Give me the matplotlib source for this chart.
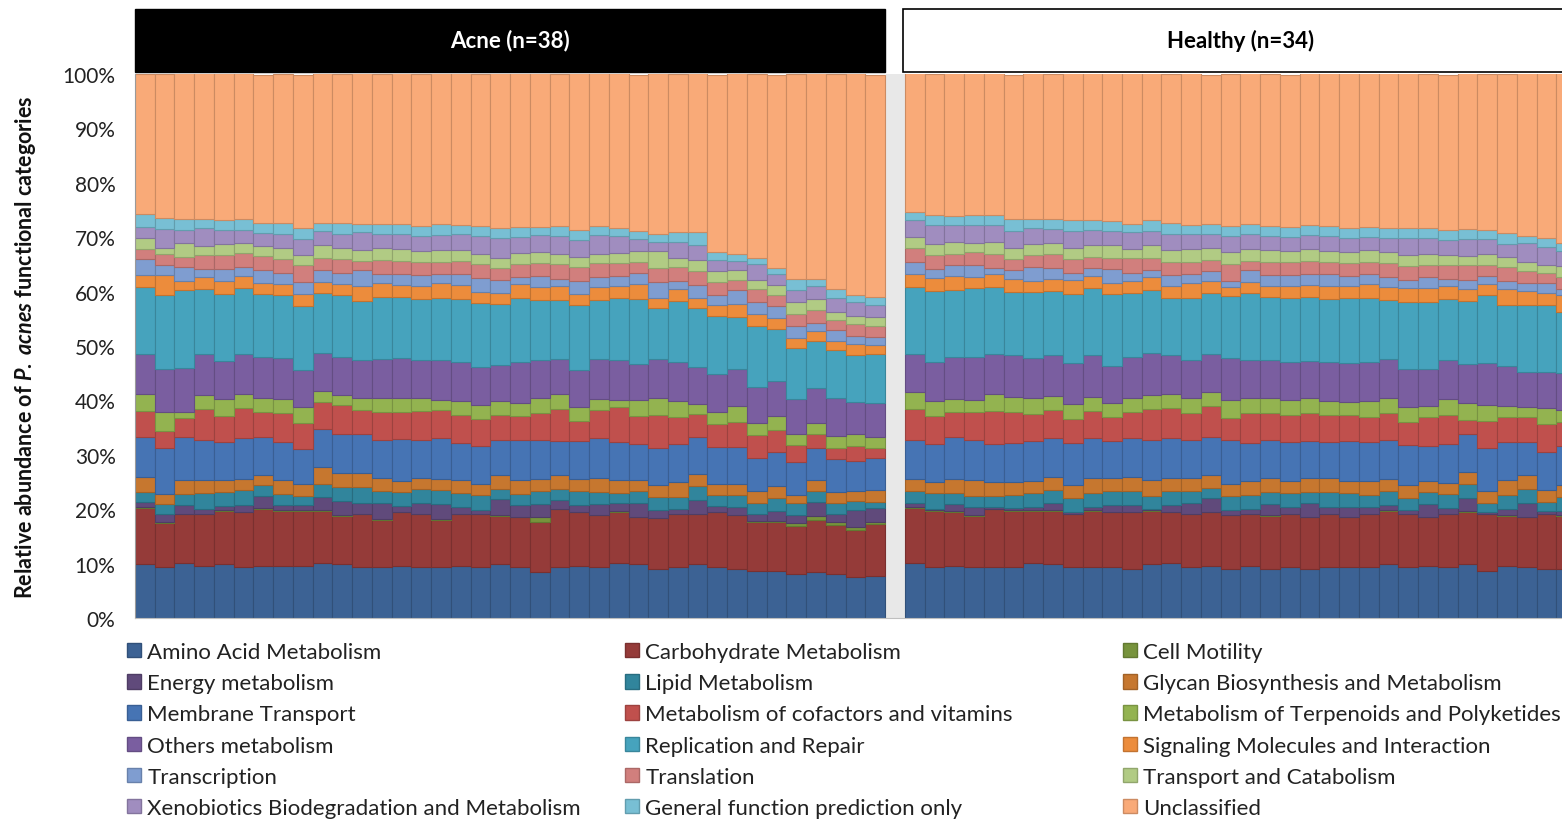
import numpy as np
import matplotlib
matplotlib.use("Agg")
import matplotlib.pyplot as plt
import matplotlib.colors as mcolors
from matplotlib.patches import Rectangle, Patch
from matplotlib.transforms import blended_transform_factory

plt.rcParams['font.family'] = ['Lato', 'DejaVu Sans']
plt.rcParams['mathtext.fontset'] = 'custom'
plt.rcParams['mathtext.it'] = 'Lato:italic:bold'
plt.rcParams['mathtext.rm'] = 'Lato:bold'

categories = ['Amino Acid Metabolism', 'Carbohydrate Metabolism', 'Cell Motility',
              'Energy metabolism', 'Lipid Metabolism', 'Glycan Biosynthesis and Metabolism',
              'Membrane Transport', 'Metabolism of cofactors and vitamins',
              'Metabolism of Terpenoids and Polyketides', 'Others metabolism',
              'Replication and Repair', 'Signaling Molecules and Interaction',
              'Transcription', 'Translation', 'Transport and Catabolism',
              'Xenobiotics Biodegradation and Metabolism', 'General function prediction only',
              'Unclassified']

colors = ['#3c6294', '#953b39', '#77933c', '#604a7b', '#31859c', '#c6772f',
          '#4674b4', '#c0504d', '#93b350', '#7a5ea0', '#46a3bd', '#ec8c3c',
          '#7f9dd0', '#d17f7d', '#b1cb84', '#a08dbf', '#78bfd4', '#f9aa78']

# ---- Acne (n=38), percent per sample ----
amino_a = [9.9, 9.3, 10.2, 9.6, 9.9, 9.3, 9.6, 9.6, 9.6, 10.2, 9.9, 9.3, 9.3, 9.6, 9.3, 9.3, 9.6, 9.3, 9.9,
           9.3, 8.5, 9.3, 9.6, 9.3, 10.2, 9.9, 9.0, 9.3, 9.9, 9.3, 9.0, 8.7, 8.7, 8.1, 8.4, 8.1, 7.5, 7.8]
carbo_a = [10.4, 8.2, 8.9, 9.5, 9.8, 10.1, 10.4, 10.1, 10.1, 9.5, 8.9, 9.8, 8.8, 9.8, 9.8, 8.8, 9.5, 9.8, 8.9,
           9.2, 9.1, 10.7, 9.8, 9.6, 9.3, 8.6, 9.3, 9.8, 9.2, 10.1, 9.9, 8.9, 8.9, 8.9, 9.7, 9.0, 8.6, 9.5]
motility_a = [0.1, 0.1, 0.1, 0.1, 0.1, 0.1, 0.2, 0.1, 0.1, 0.1, 0.1, 0.1, 0.1, 0.1, 0.1, 0.1, 0.1, 0.1, 0.1,
              0.1, 0.9, 0.1, 0.1, 0.1, 0.1, 0.1, 0.1, 0.1, 0.1, 0.1, 0.1, 0.3, 0.3, 0.5, 0.6, 0.5, 0.6, 0.4]
energy_a = [1.0, 1.6, 1.6, 0.9, 0.8, 1.2, 2.3, 0.9, 1.0, 2.5, 2.6, 2.0, 2.9, 1.1, 2.0, 2.7, 1.2, 0.6, 2.9,
            2.1, 2.5, 1.5, 1.2, 2.0, 1.6, 2.6, 1.4, 0.9, 2.5, 1.1, 1.4, 1.2, 1.8, 1.5, 2.6, 1.5, 3.1, 2.6]
lipid_a = [1.8, 1.8, 2.0, 2.8, 2.6, 2.8, 2.0, 2.1, 1.7, 2.3, 2.6, 2.9, 2.3, 2.6, 2.5, 2.6, 2.5, 2.8, 2.0,
           2.1, 2.3, 2.1, 2.6, 2.1, 1.7, 2.1, 2.5, 2.1, 2.5, 2.0, 2.3, 2.0, 2.3, 2.2, 2.0, 2.0, 1.7, 1.0]
glycan_a = [2.7, 1.8, 2.5, 2.5, 2.1, 2.1, 1.7, 2.5, 2.1, 3.1, 2.5, 2.5, 2.3, 2.0, 2.1, 2.1, 2.5, 2.1, 2.5,
            2.5, 2.2, 2.6, 2.3, 2.6, 2.5, 2.0, 2.1, 2.8, 2.3, 2.1, 2.0, 2.3, 2.3, 1.5, 2.0, 2.0, 1.8, 2.2]
membrane_a = [7.3, 8.4, 8.0, 7.4, 7.0, 7.4, 7.0, 7.0, 6.4, 7.1, 7.2, 7.2, 7.0, 7.7, 6.9, 7.5, 6.7, 7.0, 6.4,
              7.5, 7.2, 6.3, 6.9, 7.4, 7.0, 6.7, 6.9, 7.0, 6.7, 6.7, 6.7, 6.1, 6.3, 6.0, 5.9, 6.1, 5.5, 5.9]
cofactor_a = [4.9, 3.1, 3.4, 5.7, 4.9, 5.6, 4.7, 5.4, 4.9, 4.9, 5.4, 4.5, 5.2, 5.0, 5.3, 5.1, 5.3, 4.9, 4.6,
              4.3, 4.9, 5.8, 3.7, 5.1, 6.4, 5.2, 6.0, 4.9, 4.3, 4.3, 4.6, 4.1, 4.0, 3.1, 2.6, 2.0, 2.8, 1.8]
terpenoid_a = [3.1, 3.6, 1.2, 2.5, 3.1, 2.6, 2.5, 2.6, 2.9, 2.0, 1.8, 2.1, 2.6, 2.5, 2.5, 1.8, 2.5, 2.6, 2.6,
               2.5, 2.9, 2.8, 2.5, 2.1, 1.2, 2.8, 3.2, 2.9, 1.8, 2.1, 2.9, 2.2, 2.6, 2.1, 2.0, 2.2, 2.3, 2.0]
others_a = [7.3, 7.8, 8.1, 7.5, 7.0, 7.4, 7.5, 7.5, 6.7, 7.0, 7.0, 7.0, 7.2, 7.4, 6.9, 7.4, 7.2, 6.9, 6.6,
            7.4, 6.9, 6.4, 6.9, 7.4, 7.4, 6.7, 7.1, 7.2, 6.9, 7.0, 6.9, 6.7, 6.4, 6.4, 6.4, 7.0, 5.8, 6.4]
replication_a = [12.3, 13.6, 14.3, 11.9, 12.3, 12.1, 11.6, 11.5, 11.9, 11.0, 11.3, 10.8, 11.3, 11.2, 11.3,
                 11.5, 11.6, 11.8, 11.3, 11.9, 11.0, 10.9, 11.9, 10.7, 11.5, 11.9, 9.3, 11.2, 10.8, 10.7,
                 9.5, 11.2, 9.5, 9.3, 8.8, 8.8, 8.6, 8.9]
signaling_a = [2.3, 3.8, 1.7, 2.3, 2.3, 2.2, 2.1, 2.1, 2.2, 2.0, 2.1, 2.9, 2.5, 2.2, 2.3, 2.6, 2.5, 2.1, 2.0,
               2.5, 2.5, 2.5, 2.0, 2.5, 2.2, 2.8, 2.0, 2.2, 1.8, 2.1, 2.5, 2.1, 2.0, 1.8, 1.7, 1.7, 2.1, 1.7]
transcription_a = [2.9, 1.7, 2.6, 1.4, 2.3, 1.7, 2.3, 2.0, 2.1, 2.3, 2.1, 2.8, 1.8, 2.0, 2.1, 1.7, 2.0, 2.5,
                   2.3, 1.2, 2.0, 1.3, 2.5, 1.7, 1.7, 2.0, 2.8, 1.5, 2.5, 1.8, 2.5, 2.3, 2.2, 2.3, 1.6, 2.0,
                   1.4, 1.5]
translation_a = [1.8, 2.1, 1.8, 2.6, 2.6, 2.5, 2.6, 2.6, 3.1, 2.1, 2.5, 1.7, 2.6, 2.5, 2.3, 2.3, 2.5, 2.5,
                 2.3, 2.5, 2.3, 2.8, 2.5, 2.6, 2.5, 2.1, 2.6, 2.6, 2.5, 2.3, 1.8, 2.3, 2.1, 2.1, 2.3, 1.8,
                 2.3, 2.0]
transport_a = [2.0, 1.2, 2.5, 1.7, 2.0, 1.8, 1.8, 2.1, 2.0, 2.5, 2.1, 2.0, 2.1, 2.1, 2.1, 2.1, 2.0, 2.0, 1.8,
               2.0, 2.0, 1.8, 1.8, 1.8, 1.8, 2.0, 3.1, 1.7, 2.0, 2.0, 1.8, 1.7, 1.8, 2.3, 2.0, 1.5, 1.5, 1.6]
xeno_a = [2.0, 3.4, 2.5, 3.2, 2.5, 2.5, 2.5, 2.5, 2.8, 2.5, 2.5, 3.4, 2.6, 2.8, 2.8, 2.8, 2.8, 3.2, 3.6,
          2.9, 3.2, 3.4, 3.2, 3.4, 3.2, 2.1, 1.8, 2.9, 2.8, 2.1, 1.8, 2.9, 2.0, 2.2, 2.5, 2.6, 2.5, 2.3]
general_a = [2.5, 2.1, 2.0, 1.7, 1.8, 2.0, 1.8, 2.1, 2.1, 1.5, 2.0, 1.5, 1.8, 1.8, 1.8, 2.0, 1.8, 1.8, 1.8,
             1.8, 1.5, 1.8, 1.8, 1.7, 1.3, 1.5, 1.3, 1.8, 2.3, 1.5, 1.2, 1.2, 1.2, 2.1, 1.2, 1.6, 1.3, 1.4]
unclassified_a = [25.7, 26.4, 26.8, 27.0, 27.0, 26.8, 27.3, 27.3, 28.2, 27.6, 27.4, 27.7, 27.6, 27.9, 27.9,
                  27.8, 27.9, 28.0, 28.5, 28.4, 28.2, 27.9, 28.8, 28.0, 28.5, 28.8, 29.6, 29.1, 29.3, 32.5,
                  33.2, 33.8, 35.5, 37.6, 37.8, 39.6, 40.7, 40.8]

# ---- Healthy (n=34) ----
amino_h = [10.2, 9.3, 9.6, 9.3, 9.3, 9.3, 10.2, 9.9, 9.3, 9.3, 9.3, 9.0, 9.9, 10.2, 9.3, 9.6, 9.0, 9.6,
           9.0, 9.3, 9.0, 9.3, 9.3, 9.3, 9.9, 9.3, 9.6, 9.3, 9.9, 8.7, 9.6, 9.3, 9.0, 9.0]
carbo_h = [10.1, 10.4, 9.8, 9.5, 10.7, 10.4, 9.5, 9.8, 9.8, 10.4, 10.1, 10.4, 9.8, 9.2, 9.8, 9.8, 9.9, 9.5,
           9.8, 9.8, 9.5, 9.8, 9.2, 9.8, 9.8, 9.8, 8.9, 9.8, 9.6, 10.4, 9.2, 9.2, 10.1, 9.8]
motility_h = [0.1, 0.1, 0.2, 0.1, 0.1, 0.1, 0.1, 0.1, 0.1, 0.1, 0.1, 0.1, 0.1, 0.1, 0.1, 0.1, 0.1, 0.1,
              0.1, 0.1, 0.1, 0.1, 0.1, 0.1, 0.1, 0.1, 0.1, 0.1, 0.1, 0.1, 0.1, 0.1, 0.1, 0.1]
energy_h = [0.8, 0.3, 1.4, 1.5, 0.3, 0.4, 0.6, 1.4, 0.3, 0.6, 1.3, 1.3, 0.3, 1.3, 2.0, 2.6, 0.8, 0.9,
            2.0, 1.2, 2.5, 1.2, 1.8, 1.2, 1.0, 0.6, 2.3, 1.0, 2.5, 0.3, 1.2, 2.5, 0.4, 0.7]
lipid_h = [2.1, 2.8, 2.0, 2.1, 2.1, 2.5, 2.6, 2.3, 2.5, 2.5, 2.6, 2.5, 2.3, 2.5, 2.1, 1.8, 2.6, 2.5,
           2.3, 2.5, 2.1, 2.8, 2.5, 2.3, 2.5, 2.3, 2.2, 2.6, 2.6, 1.7, 2.6, 2.6, 1.7, 2.6]
glycan_h = [2.2, 2.1, 2.6, 2.8, 2.5, 2.3, 2.1, 2.5, 2.5, 2.8, 2.3, 2.6, 2.9, 2.5, 2.5, 2.3, 2.3, 2.5,
            2.5, 2.3, 2.5, 2.5, 2.3, 2.5, 2.2, 2.3, 2.0, 2.1, 2.2, 2.1, 2.6, 2.6, 2.3, 2.3]
membrane_h = [7.2, 7.0, 7.7, 7.4, 7.0, 7.2, 7.5, 7.0, 7.7, 7.4, 6.9, 7.2, 7.4, 7.2, 6.9, 7.0, 8.0, 7.0,
              7.0, 7.2, 6.9, 6.7, 7.4, 7.2, 7.2, 7.4, 6.6, 7.0, 6.9, 8.0, 7.0, 6.1, 6.9, 7.2]
cofactor_h = [5.7, 5.2, 4.6, 5.2, 6.1, 5.6, 4.9, 5.2, 4.3, 4.9, 4.3, 4.8, 5.7, 5.6, 4.9, 5.7, 4.0, 5.5,
              4.9, 5.0, 5.1, 4.9, 4.8, 4.6, 4.9, 4.2, 5.3, 5.5, 2.6, 4.9, 4.6, 4.6, 5.2, 4.3]
terpenoid_h = [3.2, 2.6, 2.3, 2.1, 3.1, 2.8, 2.9, 2.6, 2.9, 2.6, 2.6, 2.6, 2.6, 2.5, 2.8, 2.6, 3.4, 2.8,
               2.8, 2.6, 2.8, 2.6, 2.3, 2.9, 2.9, 2.7, 2.0, 2.8, 3.1, 2.9, 2.1, 1.8, 2.9, 2.3]
others_h = [7.0, 7.2, 7.8, 8.0, 7.4, 7.7, 7.4, 7.5, 7.5, 7.8, 6.9, 7.5, 7.7, 7.2, 7.0, 7.0, 7.7, 7.0,
            7.0, 7.0, 6.7, 7.1, 7.2, 7.2, 7.1, 7.1, 6.7, 7.2, 7.2, 7.8, 7.4, 6.4, 6.6, 6.7]
replication_h = [12.3, 13.2, 12.3, 12.6, 12.3, 11.6, 12.1, 11.9, 12.6, 12.3, 13.2, 11.8, 11.6, 10.5, 11.5,
                 11.2, 11.3, 12.3, 11.6, 11.8, 11.8, 11.6, 11.9, 11.8, 10.8, 12.3, 12.3, 11.3, 11.5, 12.4,
                 11.2, 12.4, 12.4, 11.2]
signaling_h = [2.3, 2.3, 2.5, 2.0, 2.3, 2.5, 2.1, 2.1, 2.6, 2.1, 2.0, 2.1, 2.3, 2.3, 2.6, 2.3, 1.8, 2.0,
               2.1, 2.2, 2.2, 2.5, 2.3, 2.5, 2.5, 2.5, 2.6, 2.3, 2.3, 2.1, 2.8, 2.5, 2.2, 3.1]
transcription_h = [2.3, 1.7, 2.1, 2.3, 1.1, 1.5, 2.5, 2.1, 1.4, 1.5, 2.6, 1.6, 1.4, 2.0, 1.7, 1.8, 1.0,
                   2.3, 2.0, 2.1, 2.1, 2.1, 1.8, 1.8, 1.7, 1.5, 2.0, 1.3, 1.7, 1.4, 1.5, 1.4, 1.7, 1.2]
translation_h = [2.5, 2.6, 2.1, 2.3, 2.6, 2.1, 2.3, 2.5, 2.5, 2.1, 2.0, 2.6, 2.1, 2.3, 2.3, 2.1, 3.2, 1.7,
                 2.3, 2.3, 2.3, 2.2, 2.3, 2.2, 2.6, 2.6, 2.3, 2.6, 2.6, 2.0, 2.6, 2.3, 2.0, 2.1]
transport_h = [2.0, 2.0, 2.1, 1.7, 2.2, 2.0, 2.0, 2.1, 2.1, 2.1, 2.3, 1.8, 2.5, 2.3, 2.3, 2.1, 2.1, 2.2,
               2.3, 2.1, 2.3, 2.1, 2.1, 2.3, 2.0, 2.1, 2.0, 1.8, 1.7, 2.1, 1.8, 1.6, 1.3, 2.1]
xeno_h = [3.1, 3.5, 3.1, 3.4, 3.2, 3.2, 2.9, 2.5, 3.1, 2.8, 2.6, 3.1, 2.5, 2.9, 2.7, 2.5, 3.1, 2.6,
          2.6, 2.6, 2.5, 2.8, 2.6, 2.3, 2.7, 3.1, 2.9, 2.8, 3.2, 2.8, 2.5, 3.5, 3.4, 2.8]
general_h = [1.6, 1.8, 1.7, 1.7, 1.7, 2.1, 1.6, 1.8, 2.0, 1.8, 1.8, 1.5, 2.1, 2.1, 1.8, 2.0, 1.8, 2.0,
             1.8, 1.8, 1.8, 1.8, 1.8, 1.8, 1.8, 1.7, 1.8, 1.8, 1.8, 1.7, 2.0, 1.4, 1.7, 1.5]
unclassified_h = [25.6, 25.9, 26.2, 26.2, 26.2, 26.6, 26.8, 26.7, 27.0, 27.0, 27.2, 27.6, 26.9, 27.3, 27.8,
                  27.4, 27.9, 27.8, 27.9, 28.0, 28.0, 28.0, 28.4, 28.4, 28.4, 28.6, 28.4, 28.5, 28.8, 28.6,
                  29.2, 29.8, 30.2, 31.1]

acne = [amino_a, carbo_a, motility_a, energy_a, lipid_a, glycan_a, membrane_a, cofactor_a,
        terpenoid_a, others_a, replication_a, signaling_a, transcription_a, translation_a,
        transport_a, xeno_a, general_a, unclassified_a]
healthy = [amino_h, carbo_h, motility_h, energy_h, lipid_h, glycan_h, membrane_h, cofactor_h,
           terpenoid_h, others_h, replication_h, signaling_h, transcription_h, translation_h,
           transport_h, xeno_h, general_h, unclassified_h]

# layout: acne bars at 0..37, one empty slot, healthy bars at 39..72
x_acne = np.arange(38)
x_healthy = np.arange(34) + 39

W, H = 1562, 820
fig = plt.figure(figsize=(W / 100, H / 100), dpi=100)
ax = fig.add_axes([135 / W, 201 / H, (W - 135) / W, 544 / H])

def darker(c, f=0.82):
    r, g, b = mcolors.to_rgb(c)
    return (r * f, g * f, b * f)

for xs, group in ((x_acne, acne), (x_healthy, healthy)):
    bottom = np.zeros(len(xs))
    for vals, col in zip(group, colors):
        v = np.array(vals)
        ax.bar(xs, v, bottom=bottom, width=1.0, color=col,
               edgecolor=darker(col), linewidth=0.8)
        bottom += v

ax.axvspan(37.55, 38.45, color='#e8e8e8', zorder=0)

ax.set_xlim(-0.5, -0.5 + (W - 135) / 19.74)
ax.set_ylim(0, 100)
ax.set_yticks(np.arange(0, 101, 10))
ax.set_yticklabels([f'{t}%' for t in range(0, 101, 10)], fontsize=15, color='#222222')
ax.tick_params(axis='y', length=0, pad=14)
ax.set_xticks([])
for s in ('top', 'right'):
    ax.spines[s].set_visible(False)
ax.spines['left'].set_color('#9a9a9a')
ax.spines['bottom'].set_color('#bfbfbf')

ax.set_ylabel(r'Relative abundance of $\it{P.\ acnes}$ functional categories',
              fontsize=15.5, fontweight='bold', color='#111111')
ax.yaxis.set_label_coords(-97 / (W - 135), 0.5)

# panel headers
tr = blended_transform_factory(ax.transData, fig.transFigure)
ax.add_patch(Rectangle((-0.5, 1 - 73 / H), 38.0, 63 / H, transform=tr,
                       facecolor='black', edgecolor='black', clip_on=False))
ax.add_patch(Rectangle((38.4, 1 - 73 / H), 34.3, 63 / H, transform=tr,
                       facecolor='white', edgecolor='black', linewidth=1.2, clip_on=False))
ax.text(18.5, 1 - 41 / H, 'Acne (n=38)', transform=tr, ha='center', va='center',
        color='white', fontsize=16, fontweight='bold')
ax.text(55.5, 1 - 41 / H, 'Healthy (n=34)', transform=tr, ha='center', va='center',
        color='black', fontsize=16, fontweight='bold')

# legend: three columns, row-major order
handles = [Patch(facecolor=c, edgecolor=darker(c), label=l) for c, l in zip(colors, categories)]
col_x = [127, 625, 1123]
for c in range(3):
    hs = handles[c::3]
    fig.legend(handles=hs, loc='upper left', bbox_to_anchor=(col_x[c] / W, 1 - 643 / H),
               frameon=False, fontsize=16, handlelength=0.62, handleheight=0.62,
               handletextpad=0.3, labelspacing=0.505, borderaxespad=0, borderpad=0,
               labelcolor='#222222')

fig.savefig('out.png', dpi=100)
